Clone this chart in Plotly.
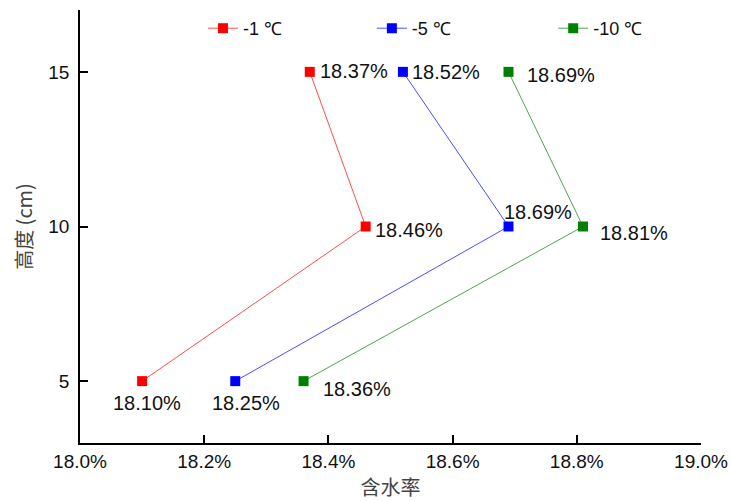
import plotly.graph_objects as go

heights = [5, 10, 15]
series_names = ["-1 ℃", "-5 ℃", "-10 ℃"]
moisture_m1 = [18.10, 18.46, 18.37]
moisture_m5 = [18.25, 18.69, 18.52]
moisture_m10 = [18.36, 18.81, 18.69]
x_ticks = [18.0, 18.2, 18.4, 18.6, 18.8, 19.0]
y_ticks = [5, 10, 15]

FONT = "Liberation Sans"
CJK = "Noto Sans CJK SC"
colors = ["#ff0000", "#0000ff", "#008000"]
line_colors = ["rgba(255,0,0,0.7)", "rgba(0,0,255,0.7)", "rgba(0,128,0,0.7)"]
all_series = [moisture_m1, moisture_m5, moisture_m10]
legend_ids = ["legend", "legend2", "legend3"]
legend_x = [0.198, 0.470, 0.762]

fig = go.Figure()
for name, vals, c, lc, lid in zip(series_names, all_series, colors, line_colors, legend_ids):
    fig.add_trace(go.Scatter(
        x=vals, y=heights, mode="lines+markers", name=name, legend=lid,
        line=dict(color=lc, width=1),
        marker=dict(symbol="square", size=10, color=c),
    ))

# label placement offsets (pixels) per series per point (5, 10, 15)
offsets = [
    [(5, -22, "center"), (7, -3, "left"), (8, 1, "left")],
    [(11, -22, "center"), (-6, 15, "left"), (7, 0, "left")],
    [(17, -8, "left"), (15, -6, "left"), (17, -3, "left")],
]
for vals, offs in zip(all_series, offsets):
    for xv, yv, (dx, dy, anc) in zip(vals, heights, offs):
        fig.add_annotation(
            x=xv, y=yv, text=f"{xv:.2f}%", showarrow=False,
            xanchor=anc, yanchor="middle", xshift=dx, yshift=dy,
            font=dict(family=FONT, size=20, color="#111"),
        )

legend_common = dict(
    orientation="h", xanchor="left", y=1.0, yanchor="top",
    font=dict(family=FONT, size=18, color="#111"),
    bgcolor="rgba(0,0,0,0)", itemwidth=30,
)
layout_legends = {lid: dict(legend_common, x=lx) for lid, lx in zip(legend_ids, legend_x)}

fig.update_layout(
    width=731, height=501,
    margin=dict(l=80, r=30, t=10, b=58),
    paper_bgcolor="white", plot_bgcolor="white",
    font=dict(family=FONT, color="#111"),
    showlegend=True,
    **layout_legends,
    xaxis=dict(
        range=[18.0, 19.0], tickvals=x_ticks, automargin=False,
        ticktext=[f"{v:.1f}%" for v in x_ticks],
        showline=True, linecolor="black", linewidth=1.5,
        ticks="inside", ticklen=8, tickcolor="black", tickwidth=1.5,
        showgrid=False, zeroline=False,
        tickfont=dict(family=FONT, size=19, color="#111"),
        title=dict(text="含水率", font=dict(family=CJK, size=20, color="#444"), standoff=11),
    ),
    yaxis=dict(
        range=[3, 17], tickvals=y_ticks, automargin=False,
        showline=True, linecolor="black", linewidth=1.5,
        ticks="inside", ticklen=8, tickcolor="black", tickwidth=1.5,
        ticklabelstandoff=5,
        showgrid=False, zeroline=False,
        tickfont=dict(family=FONT, size=19, color="#111"),
        title=dict(text="高度 (cm)", font=dict(family=CJK, size=20, color="#444"), standoff=10),
    ),
)

fig.write_html(
    "out.html",
    config={"displayModeBar": False},
    post_script="document.body.style.margin='0';document.body.style.overflow='hidden';",
)
